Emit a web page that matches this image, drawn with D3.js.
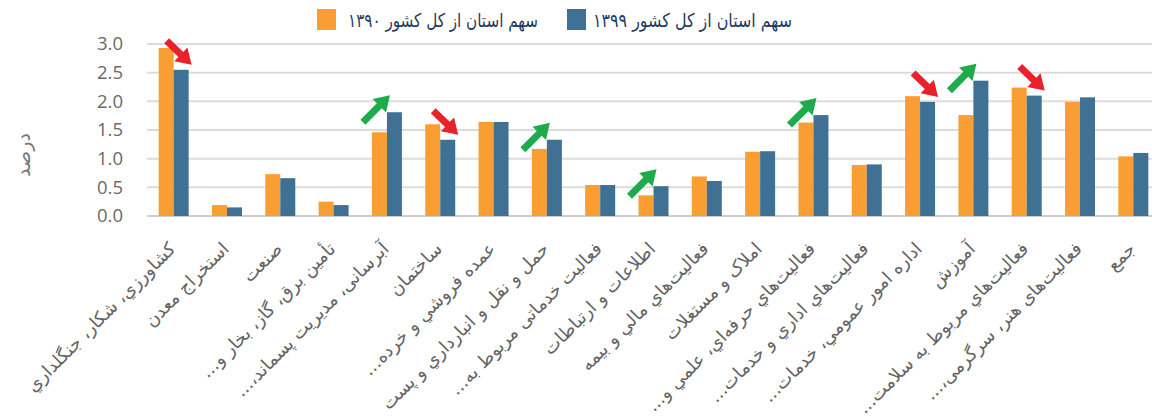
<!DOCTYPE html>
<html>
<head>
<meta charset="utf-8">
<script src="https://cdn.jsdelivr.net/npm/d3@7"></script>
<style>
  body { margin: 0; background: #fff; }
  svg { display: block; }
</style>
</head>
<body>
<div id="chart"></div>
<script>
const categories = [
  'كشاورزي، شكار، جنگلداري',
  'استخراج معدن',
  'صنعت',
  'تأمين برق، گاز، بخار و...',
  'آبرسانی، مدیریت پسماند،...',
  'ساختمان',
  'عمده فروشي  و خرده...',
  'حمل و نقل و انبارداري و پست',
  'فعالیت خدماتی مربوط به...',
  'اطلاعات و  ارتباطات',
  'فعاليت‌هاي مالي و بيمه',
  'املاک و مستغلات',
  'فعاليت‌هاي حرفه‌اي، علمي و...',
  'فعاليت‌هاي اداري و خدمات...',
  'اداره امور  عمومي، خدمات...',
  'آموزش',
  'فعاليت‌هاي مربوط به سلامت...',
  'فعالیت‌های هنر، سرگرمی،...',
  'جمع'
];
const values1390 = [2.93, 0.19, 0.73, 0.25, 1.46, 1.60, 1.64, 1.17, 0.54, 0.36, 0.69, 1.12, 1.63, 0.89, 2.09, 1.76, 2.24, 1.99, 1.04];
const values1399 = [2.55, 0.15, 0.66, 0.19, 1.81, 1.33, 1.64, 1.33, 0.54, 0.52, 0.61, 1.13, 1.76, 0.90, 1.99, 2.36, 2.10, 2.07, 1.10];
const seriesNames = ['سهم استان از کل کشور ۱۳۹۰', 'سهم استان از کل کشور ۱۳۹۹'];
const yTicks = [0, 0.5, 1.0, 1.5, 2.0, 2.5, 3.0];
const arrowsUp = [4, 7, 9, 12, 15];
const arrowsDown = [0, 5, 14, 16];

const width = 1152;
const height = 419;
const margin = {top: 44, bottom: 203, left: 147, right: -8};
const colors = ['#F99E32', '#3E7193'];
const faFont = '"DejaVu Sans", sans-serif';

const svg = d3.select('#chart')
  .append('svg')
  .attr('width', width)
  .attr('height', height);

const x = d3.scaleBand()
  .domain(d3.range(categories.length))
  .range([margin.left, width - margin.right])
  .paddingInner(0.4375)
  .paddingOuter(0.21875);

const xs = d3.scaleBand()
  .domain([0, 1])
  .range([0, x.bandwidth()]);

const y = d3.scaleLinear()
  .domain([0, 3])
  .range([height - margin.bottom, margin.top]);

// grid
svg.append('g')
  .selectAll('line')
  .data(yTicks)
  .join('line')
  .attr('x1', margin.left)
  .attr('x2', width)
  .attr('y1', d => y(d))
  .attr('y2', d => y(d))
  .attr('stroke', d => d === 0 ? '#CFCFCF' : '#DCDCDC')
  .attr('stroke-width', 2);

// y axis
const yAxis = svg.append('g')
  .attr('transform', `translate(${margin.left},0)`)
  .call(d3.axisLeft(y).tickValues(yTicks).tickFormat(d3.format('.1f')).tickSize(0).tickPadding(24));
yAxis.select('.domain').remove();
yAxis.selectAll('text')
  .attr('font-family', '"Open Sans", sans-serif')
  .attr('font-size', 18.5)
  .attr('fill', '#6a6a6a');

svg.append('text')
  .attr('transform', `translate(30,${y(1.5) + 25}) rotate(-90)`)
  .attr('text-anchor', 'middle')
  .attr('direction', 'rtl')
  .attr('font-family', faFont)
  .attr('font-size', 19)
  .attr('fill', '#777')
  .text('درصد');

// bars
const groups = svg.append('g')
  .selectAll('g')
  .data(categories.map((c, i) => [values1390[i], values1399[i]]))
  .join('g')
  .attr('transform', (d, i) => `translate(${x(i)},0)`);

groups.selectAll('rect')
  .data(d => d)
  .join('rect')
  .attr('x', (d, j) => xs(j))
  .attr('y', d => y(d))
  .attr('width', xs.bandwidth())
  .attr('height', d => y(0) - y(d))
  .attr('fill', (d, j) => colors[j]);

// x labels
svg.append('g')
  .selectAll('text')
  .data(categories)
  .join('text')
  .attr('transform', (d, i) => `translate(${x(i) + x.bandwidth() / 2 + 3},${y(0) + 34}) rotate(-45)`)
  .attr('direction', 'rtl')
  .attr('text-anchor', 'start')
  .attr('font-family', faFont)
  .attr('font-size', 18)
  .attr('fill', '#646464')
  .text(d => d);

// arrows
function arrowPath(x0, y0, x1, y1) {
  const dx = x1 - x0, dy = y1 - y0;
  const len = Math.sqrt(dx * dx + dy * dy);
  const ux = dx / len, uy = dy / len;
  const px = -uy, py = ux;
  const head = 15, hw = 9.5, sw = 3.5;
  const bx = x1 - ux * head, by = y1 - uy * head;
  const pts = [
    [x0 + px * sw, y0 + py * sw],
    [bx + px * sw, by + py * sw],
    [bx + px * hw, by + py * hw],
    [x1, y1],
    [bx - px * hw, by - py * hw],
    [bx - px * sw, by - py * sw],
    [x0 - px * sw, y0 - py * sw]
  ];
  return 'M' + pts.map(p => p.join(',')).join('L') + 'Z';
}

const cx = i => x(i) + x.bandwidth() / 2;

svg.append('g')
  .selectAll('path')
  .data(arrowsDown)
  .join('path')
  .attr('d', i => {
    const tx = cx(i) + 18, ty = y(values1399[i]) - 5;
    return arrowPath(tx - 25, ty - 24, tx, ty);
  })
  .attr('fill', '#E8212B');

svg.append('g')
  .selectAll('path')
  .data(arrowsUp)
  .join('path')
  .attr('d', i => {
    const tx = cx(i) + 3, ty = y(values1399[i]) - 17;
    return arrowPath(tx - 27, ty + 27, tx, ty);
  })
  .attr('fill', '#1FAA4B');

// legend
const legend = [
  {name: seriesNames[0], color: colors[0], sx: 317, tx: 348, tw: 190},
  {name: seriesNames[1], color: colors[1], sx: 567, tx: 593, tw: 199}
];
const lg = svg.append('g');
lg.selectAll('rect')
  .data(legend)
  .join('rect')
  .attr('x', d => d.sx)
  .attr('y', 9)
  .attr('width', 19)
  .attr('height', 21)
  .attr('fill', d => d.color);
lg.selectAll('text')
  .data(legend)
  .join('text')
  .attr('x', d => d.tx)
  .attr('y', 27)
  .attr('text-anchor', 'start')
  .attr('textLength', d => d.tw)
  .attr('lengthAdjust', 'spacingAndGlyphs')
  .attr('font-family', faFont)
  .attr('font-size', 19)
  .attr('fill', '#1F3A60')
  .text(d => d.name);
</script>
</body>
</html>
